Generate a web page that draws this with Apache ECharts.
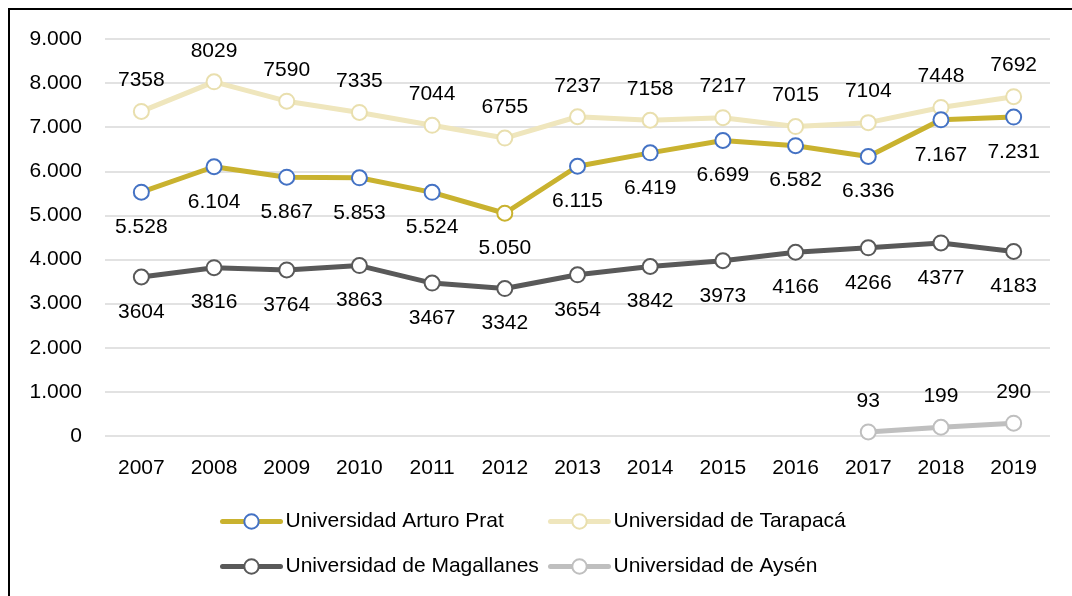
<!DOCTYPE html>
<html>
<head>
<meta charset="utf-8">
<script src="https://cdn.jsdelivr.net/npm/echarts@6/dist/echarts.min.js"></script>
<style>
  html, body { margin: 0; padding: 0; background: #fff; }
  #main { width: 1072px; height: 596px; }
</style>
</head>
<body>
<div id="main"></div>
<script>
var years = ['2007', '2008', '2009', '2010', '2011', '2012', '2013', '2014', '2015', '2016', '2017', '2018', '2019'];
var arturoPrat = [5528, 6104, 5867, 5853, 5524, 5050, 6115, 6419, 6699, 6582, 6336, 7167, 7231];
var tarapaca = [7358, 8029, 7590, 7335, 7044, 6755, 7237, 7158, 7217, 7015, 7104, 7448, 7692];
var magallanes = [3604, 3816, 3764, 3863, 3467, 3342, 3654, 3842, 3973, 4166, 4266, 4377, 4183];
var aysen = [null, null, null, null, null, null, null, null, null, null, 93, 199, 290];
var names = ['Universidad Arturo Prat', 'Universidad de Tarapacá', 'Universidad de Magallanes', 'Universidad de Aysén'];

var FONT = 'Liberation Sans';

// separador de miles con punto
function miles(v) {
    return String(v).replace(/\B(?=(\d{3})+(?!\d))/g, '.');
}

var myChart = echarts.init(document.getElementById('main'));

// el punto de 2012 tiene borde amarillo en el original
var pratData = arturoPrat.map(function (v, i) {
    if (i == 5) {
        return { value: v, itemStyle: { borderColor: '#C9B22F' } };
    }
    return v;
});

function serie(name, data, color, border, pos, fmt) {
    return {
        name: name,
        type: 'line',
        data: data,
        symbol: 'circle',
        symbolSize: 15,
        showAllSymbol: true,
        lineStyle: { color: color, width: 5, cap: 'round', join: 'round' },
        itemStyle: { color: '#fff', borderColor: border, borderWidth: 2 },
        label: {
            show: true,
            position: pos,
            distance: pos == 'top' ? 12 : 16,
            color: '#000',
            fontFamily: FONT,
            fontSize: 21,
            formatter: fmt
        },
        emphasis: { disabled: true },
        animation: false
    };
}

function leyenda(name, left, top) {
    return {
        data: [name],
        left: left,
        top: top,
        itemWidth: 58,
        itemHeight: 18,
        itemGap: 0,
        padding: 0,
        lineStyle: { width: 5, cap: 'round' },
        textStyle: { fontFamily: FONT, fontSize: 21, color: '#000', padding: [0, 0, 0, 0] }
    };
}

var option = {
    backgroundColor: '#fff',
    graphic: [{
        type: 'rect',
        shape: { x: 9, y: 9, width: 1080, height: 600 },
        style: { fill: 'none', stroke: '#000', lineWidth: 2 },
        silent: true
    }],
    grid: { left: 105, top: 39, width: 945, height: 397, containLabel: false },
    legend: [
        leyenda(names[0], 220, 511),
        leyenda(names[1], 548, 511),
        leyenda(names[2], 220, 556),
        leyenda(names[3], 548, 556)
    ],
    xAxis: {
        type: 'category',
        data: years,
        boundaryGap: true,
        axisLine: { show: false },
        axisTick: { show: false },
        axisLabel: { color: '#000', fontFamily: FONT, fontSize: 21, margin: 22 }
    },
    yAxis: {
        type: 'value',
        min: 0,
        max: 9000,
        interval: 1000,
        axisLine: { show: false },
        axisTick: { show: false },
        splitLine: { lineStyle: { color: '#D9D9D9', width: 1.5 } },
        axisLabel: {
            color: '#000', fontFamily: FONT, fontSize: 21, margin: 23,
            formatter: function (v) { return miles(v); }
        }
    },
    series: [
        serie(names[1], tarapaca, '#EFE6BD', '#E9DFAE', 'top'),
        serie(names[0], pratData, '#C9B22F', '#4472C4', 'bottom', function (p) { return miles(p.value); }),
        serie(names[2], magallanes, '#595959', '#595959', 'bottom'),
        serie(names[3], aysen, '#BFBFBF', '#BFBFBF', 'top')
    ]
};

myChart.setOption(option);
</script>
</body>
</html>
